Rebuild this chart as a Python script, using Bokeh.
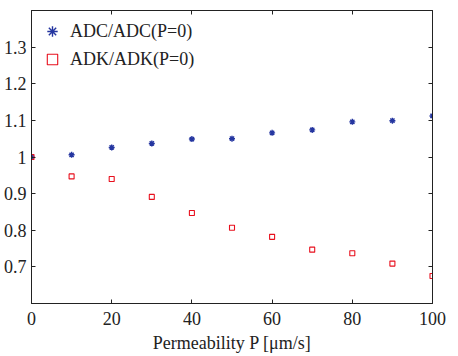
from bokeh.plotting import figure
from bokeh.models import LinearAxis, FixedTicker, CustomJSTickFormatter, Range1d, Legend, LegendItem
from bokeh.embed import file_html
from bokeh.resources import INLINE

# Data
perm = [0, 10, 20, 30, 40, 50, 60, 70, 80, 90, 100]
adc_ratio = [1.000, 1.006, 1.026, 1.037, 1.049, 1.050, 1.066, 1.074, 1.096, 1.099, 1.112]
adk_ratio = [1.000, 0.947, 0.940, 0.891, 0.847, 0.807, 0.782, 0.747, 0.737, 0.709, 0.675]
x_ticks = [0, 20, 40, 60, 80, 100]
y_ticks = [0.7, 0.8, 0.9, 1.0, 1.1, 1.2, 1.3]
x_label = "Permeability P [μm/s]"
label_adc = "ADC/ADC(P=0)"
label_adk = "ADK/ADK(P=0)"

FONT = "Liberation Serif"
FS = "18px"
INK = "#222222"

p = figure(width=458, height=356, output_backend="svg", toolbar_location=None,
           x_range=Range1d(0, 100), y_range=Range1d(0.6, 1.4),
           min_border_left=31, min_border_right=26, min_border_top=10, min_border_bottom=53,
           x_axis_label=x_label)
p.grid.visible = False
p.outline_line_color = INK
p.outline_line_width = 1
p.background_fill_color = "white"
p.border_fill_color = "white"

fmt = CustomJSTickFormatter(code="return Number(tick.toFixed(1)).toString();")
blank = CustomJSTickFormatter(code="return '';")

for ax in p.xaxis:
    ax.ticker = FixedTicker(ticks=x_ticks)
for ax in p.yaxis:
    ax.ticker = FixedTicker(ticks=y_ticks)
    ax.formatter = fmt

for ax in list(p.xaxis) + list(p.yaxis):
    ax.major_tick_in = 4
    ax.major_tick_out = 0
    ax.minor_tick_in = 0
    ax.minor_tick_out = 0
    ax.axis_line_color = INK
    ax.major_tick_line_color = INK
    ax.major_label_text_font = FONT
    ax.major_label_text_font_size = FS
    ax.major_label_text_color = INK
    ax.axis_label_text_font = FONT
    ax.axis_label_text_font_size = FS
    ax.axis_label_text_font_style = "normal"
    ax.axis_label_text_color = INK
p.xaxis.major_label_standoff = 8
p.xaxis.axis_label_standoff = 5
p.yaxis.major_label_standoff = 5

# box ticks on top and right
top = LinearAxis(ticker=FixedTicker(ticks=x_ticks), formatter=blank,
                 major_label_standoff=0, major_tick_in=4, major_tick_out=0,
                 minor_tick_in=0, minor_tick_out=0, axis_line_color=INK, major_tick_line_color=INK)
right = LinearAxis(ticker=FixedTicker(ticks=y_ticks), formatter=blank,
                   major_label_standoff=0, major_tick_in=4, major_tick_out=0,
                   minor_tick_in=0, minor_tick_out=0, axis_line_color=INK, major_tick_line_color=INK)
p.add_layout(top, "above")
p.add_layout(right, "right")

r1 = p.scatter(perm, adc_ratio, marker="asterisk", size=6, line_color="#2536a0", line_width=1.4)
r2 = p.scatter(perm, adk_ratio, marker="square", size=5, line_color="#e8101e",
               fill_color=None, line_width=1.1)

legend = Legend(items=[LegendItem(label=label_adc, renderers=[r1]),
                       LegendItem(label=label_adk, renderers=[r2])],
                location="top_left", border_line_color=None, background_fill_alpha=0,
                label_text_font=FONT, label_text_font_size=FS, label_text_color=INK,
                margin=8, padding=0, spacing=2, label_height=26, glyph_width=26,
                glyph_height=26, label_standoff=5)
p.add_layout(legend, "center")

open("out.html", "w").write(file_html(p, INLINE))
